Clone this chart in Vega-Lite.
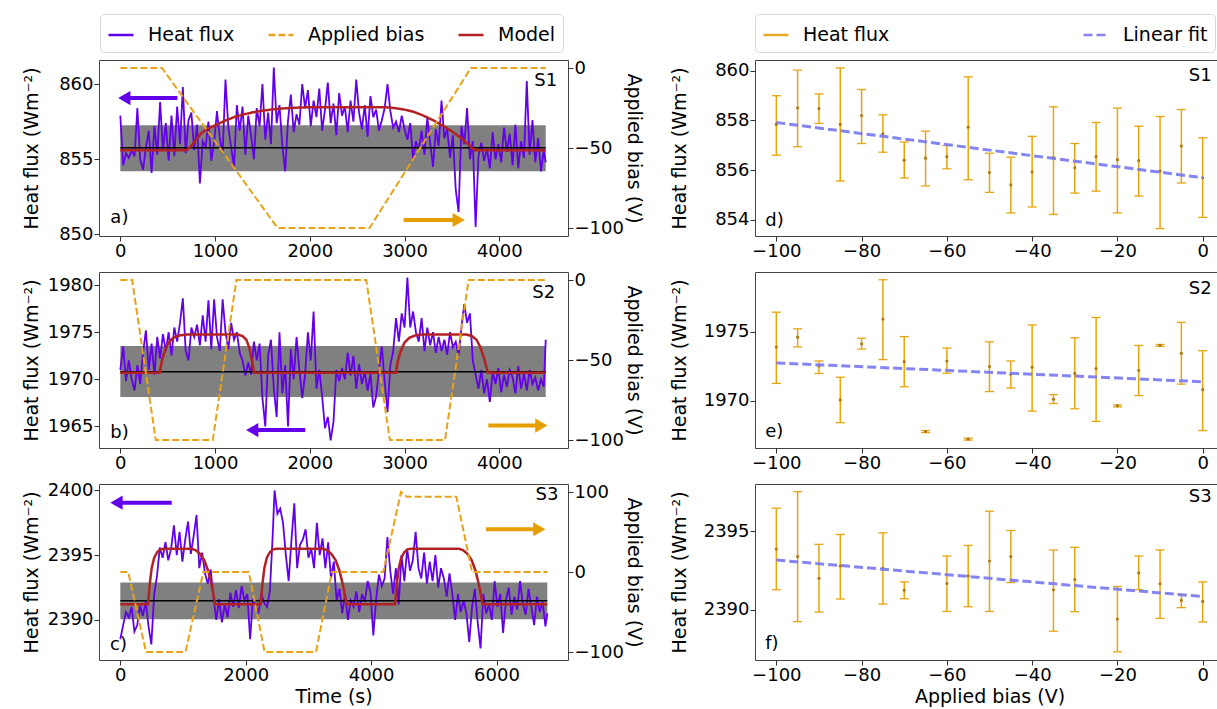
{
"$schema":"https://vega.github.io/schema/vega-lite/v6.json",
"padding":{"left":21,"top":13,"right":0,"bottom":0},
"columns":2,
"spacing":{"row":36,"column":187},
"bounds":"flush",
"resolve":{"scale":{"color":"independent","strokeDash":"independent"}},
"datasets":{
"flux_a":[{"t":0,"v":857.9},{"t":30,"v":854.6},{"t":60,"v":855.4},{"t":90,"v":855.1},{"t":120,"v":855.6},{"t":150,"v":855.2},{"t":180,"v":858.4},{"t":210,"v":855.0},{"t":240,"v":854.3},{"t":270,"v":855.8},{"t":300,"v":856.9},{"t":330,"v":854.1},{"t":360,"v":857.2},{"t":390,"v":855.3},{"t":420,"v":858.8},{"t":450,"v":855.6},{"t":480,"v":857.4},{"t":510,"v":854.9},{"t":540,"v":857.9},{"t":570,"v":855.2},{"t":600,"v":858.5},{"t":630,"v":856.0},{"t":660,"v":859.8},{"t":690,"v":855.4},{"t":720,"v":857.6},{"t":750,"v":858.1},{"t":780,"v":855.6},{"t":810,"v":857.3},{"t":840,"v":853.4},{"t":870,"v":856.2},{"t":900,"v":855.8},{"t":930,"v":857.5},{"t":960,"v":854.9},{"t":990,"v":856.1},{"t":1020,"v":858.2},{"t":1050,"v":856.4},{"t":1080,"v":855.4},{"t":1110,"v":860.3},{"t":1140,"v":857.1},{"t":1170,"v":855.8},{"t":1200,"v":854.5},{"t":1230,"v":858.6},{"t":1260,"v":856.9},{"t":1290,"v":858.5},{"t":1320,"v":855.3},{"t":1350,"v":857.9},{"t":1380,"v":856.6},{"t":1410,"v":855.0},{"t":1440,"v":858.4},{"t":1470,"v":857.2},{"t":1500,"v":860.0},{"t":1530,"v":856.3},{"t":1560,"v":858.1},{"t":1590,"v":856.0},{"t":1620,"v":861.1},{"t":1650,"v":857.4},{"t":1680,"v":858.6},{"t":1710,"v":855.9},{"t":1740,"v":854.2},{"t":1770,"v":857.6},{"t":1800,"v":859.3},{"t":1830,"v":856.8},{"t":1860,"v":858.0},{"t":1890,"v":857.3},{"t":1920,"v":860.0},{"t":1950,"v":858.4},{"t":1980,"v":859.6},{"t":2010,"v":857.2},{"t":2040,"v":858.9},{"t":2070,"v":857.8},{"t":2100,"v":859.7},{"t":2130,"v":856.9},{"t":2160,"v":858.3},{"t":2190,"v":860.1},{"t":2220,"v":857.4},{"t":2250,"v":858.7},{"t":2280,"v":856.6},{"t":2310,"v":859.4},{"t":2340,"v":857.9},{"t":2370,"v":858.5},{"t":2400,"v":856.8},{"t":2430,"v":858.9},{"t":2460,"v":857.5},{"t":2490,"v":860.3},{"t":2520,"v":858.1},{"t":2550,"v":857.0},{"t":2580,"v":858.6},{"t":2610,"v":856.5},{"t":2640,"v":859.2},{"t":2670,"v":857.8},{"t":2700,"v":858.3},{"t":2730,"v":856.9},{"t":2760,"v":857.6},{"t":2790,"v":858.4},{"t":2820,"v":860.0},{"t":2850,"v":858.2},{"t":2880,"v":857.1},{"t":2910,"v":857.5},{"t":2940,"v":856.8},{"t":2970,"v":857.9},{"t":3000,"v":857.0},{"t":3030,"v":856.3},{"t":3060,"v":857.4},{"t":3090,"v":855.0},{"t":3120,"v":856.2},{"t":3150,"v":855.6},{"t":3180,"v":856.9},{"t":3210,"v":855.3},{"t":3240,"v":857.8},{"t":3270,"v":856.1},{"t":3300,"v":854.5},{"t":3330,"v":857.0},{"t":3360,"v":855.9},{"t":3390,"v":858.9},{"t":3420,"v":856.4},{"t":3450,"v":857.0},{"t":3480,"v":855.1},{"t":3510,"v":856.6},{"t":3540,"v":853.0},{"t":3570,"v":851.5},{"t":3600,"v":857.2},{"t":3630,"v":856.0},{"t":3660,"v":858.4},{"t":3690,"v":855.0},{"t":3720,"v":856.2},{"t":3750,"v":850.5},{"t":3780,"v":855.2},{"t":3810,"v":856.1},{"t":3840,"v":854.9},{"t":3870,"v":855.7},{"t":3900,"v":854.4},{"t":3930,"v":856.8},{"t":3960,"v":855.0},{"t":3990,"v":856.0},{"t":4020,"v":854.8},{"t":4050,"v":857.1},{"t":4080,"v":855.5},{"t":4110,"v":856.7},{"t":4140,"v":854.6},{"t":4170,"v":857.3},{"t":4200,"v":854.4},{"t":4230,"v":856.2},{"t":4260,"v":855.1},{"t":4290,"v":860.2},{"t":4320,"v":855.3},{"t":4350,"v":857.6},{"t":4380,"v":854.8},{"t":4410,"v":856.4},{"t":4440,"v":854.2},{"t":4470,"v":855.6},{"t":4490,"v":854.8}],
"flux_b":[{"t":0,"v":1971.0},{"t":30,"v":1973.5},{"t":60,"v":1969.8},{"t":90,"v":1972.0},{"t":120,"v":1970.0},{"t":150,"v":1968.8},{"t":180,"v":1971.5},{"t":210,"v":1969.5},{"t":240,"v":1972.8},{"t":270,"v":1975.2},{"t":300,"v":1971.0},{"t":330,"v":1973.8},{"t":360,"v":1970.5},{"t":390,"v":1974.5},{"t":420,"v":1972.2},{"t":450,"v":1974.8},{"t":480,"v":1973.0},{"t":510,"v":1975.0},{"t":540,"v":1972.5},{"t":570,"v":1975.5},{"t":600,"v":1974.0},{"t":630,"v":1976.0},{"t":660,"v":1978.6},{"t":690,"v":1973.0},{"t":720,"v":1972.0},{"t":750,"v":1975.5},{"t":780,"v":1974.5},{"t":810,"v":1975.8},{"t":840,"v":1973.6},{"t":870,"v":1976.8},{"t":900,"v":1974.0},{"t":930,"v":1978.4},{"t":960,"v":1973.2},{"t":990,"v":1978.5},{"t":1020,"v":1974.5},{"t":1050,"v":1973.0},{"t":1080,"v":1978.5},{"t":1110,"v":1975.0},{"t":1140,"v":1973.2},{"t":1170,"v":1976.0},{"t":1200,"v":1974.2},{"t":1230,"v":1975.0},{"t":1260,"v":1972.8},{"t":1290,"v":1972.0},{"t":1320,"v":1970.4},{"t":1350,"v":1971.8},{"t":1380,"v":1970.5},{"t":1410,"v":1974.0},{"t":1440,"v":1972.0},{"t":1470,"v":1973.8},{"t":1500,"v":1968.0},{"t":1530,"v":1965.0},{"t":1560,"v":1972.5},{"t":1590,"v":1974.2},{"t":1620,"v":1969.0},{"t":1650,"v":1966.0},{"t":1680,"v":1975.0},{"t":1710,"v":1968.5},{"t":1740,"v":1971.5},{"t":1770,"v":1965.0},{"t":1800,"v":1973.2},{"t":1830,"v":1970.0},{"t":1860,"v":1974.5},{"t":1890,"v":1971.0},{"t":1920,"v":1968.0},{"t":1950,"v":1970.5},{"t":1980,"v":1975.0},{"t":2010,"v":1972.0},{"t":2040,"v":1977.2},{"t":2070,"v":1969.0},{"t":2100,"v":1971.0},{"t":2130,"v":1968.2},{"t":2160,"v":1964.8},{"t":2190,"v":1966.0},{"t":2220,"v":1963.5},{"t":2250,"v":1965.5},{"t":2280,"v":1971.0},{"t":2310,"v":1969.8},{"t":2340,"v":1971.2},{"t":2370,"v":1970.0},{"t":2400,"v":1972.8},{"t":2430,"v":1970.4},{"t":2460,"v":1972.5},{"t":2490,"v":1969.0},{"t":2520,"v":1971.6},{"t":2550,"v":1969.5},{"t":2580,"v":1970.8},{"t":2610,"v":1968.8},{"t":2640,"v":1970.6},{"t":2670,"v":1967.0},{"t":2700,"v":1968.2},{"t":2730,"v":1971.0},{"t":2760,"v":1973.5},{"t":2790,"v":1969.8},{"t":2820,"v":1966.5},{"t":2850,"v":1971.5},{"t":2880,"v":1973.0},{"t":2910,"v":1976.5},{"t":2940,"v":1974.0},{"t":2970,"v":1977.0},{"t":3000,"v":1975.5},{"t":3030,"v":1980.8},{"t":3060,"v":1975.5},{"t":3090,"v":1977.2},{"t":3120,"v":1975.0},{"t":3150,"v":1974.0},{"t":3180,"v":1976.5},{"t":3210,"v":1973.0},{"t":3240,"v":1975.5},{"t":3270,"v":1973.6},{"t":3300,"v":1975.0},{"t":3330,"v":1972.8},{"t":3360,"v":1974.5},{"t":3390,"v":1973.0},{"t":3420,"v":1974.2},{"t":3450,"v":1972.6},{"t":3480,"v":1975.0},{"t":3510,"v":1973.4},{"t":3540,"v":1974.0},{"t":3570,"v":1972.5},{"t":3600,"v":1975.5},{"t":3630,"v":1978.0},{"t":3660,"v":1976.0},{"t":3690,"v":1977.0},{"t":3720,"v":1972.0},{"t":3750,"v":1970.5},{"t":3780,"v":1969.0},{"t":3810,"v":1971.0},{"t":3840,"v":1968.5},{"t":3870,"v":1970.0},{"t":3900,"v":1967.6},{"t":3930,"v":1970.8},{"t":3960,"v":1969.5},{"t":3990,"v":1971.2},{"t":4020,"v":1968.6},{"t":4050,"v":1970.5},{"t":4080,"v":1969.2},{"t":4110,"v":1971.0},{"t":4140,"v":1970.2},{"t":4170,"v":1968.5},{"t":4200,"v":1971.4},{"t":4230,"v":1969.0},{"t":4260,"v":1970.6},{"t":4290,"v":1968.8},{"t":4320,"v":1971.0},{"t":4350,"v":1969.5},{"t":4380,"v":1970.2},{"t":4410,"v":1968.8},{"t":4440,"v":1970.0},{"t":4470,"v":1969.2},{"t":4490,"v":1974.2}],
"flux_c":[{"t":0,"v":2388.5},{"t":45,"v":2389.6},{"t":90,"v":2390.6},{"t":135,"v":2390.2},{"t":180,"v":2391.0},{"t":225,"v":2389.1},{"t":270,"v":2389.6},{"t":315,"v":2391.1},{"t":360,"v":2390.3},{"t":405,"v":2391.4},{"t":450,"v":2389.5},{"t":495,"v":2388.1},{"t":540,"v":2392.0},{"t":585,"v":2393.4},{"t":630,"v":2395.6},{"t":675,"v":2394.8},{"t":720,"v":2396.0},{"t":765,"v":2394.6},{"t":810,"v":2395.5},{"t":855,"v":2397.3},{"t":900,"v":2395.0},{"t":945,"v":2396.8},{"t":990,"v":2394.5},{"t":1035,"v":2396.2},{"t":1080,"v":2397.6},{"t":1125,"v":2395.1},{"t":1170,"v":2396.5},{"t":1215,"v":2398.1},{"t":1260,"v":2394.0},{"t":1305,"v":2395.2},{"t":1350,"v":2393.6},{"t":1395,"v":2392.8},{"t":1440,"v":2393.9},{"t":1485,"v":2391.8},{"t":1530,"v":2390.0},{"t":1575,"v":2391.6},{"t":1620,"v":2389.8},{"t":1665,"v":2391.2},{"t":1710,"v":2390.2},{"t":1755,"v":2392.1},{"t":1800,"v":2391.0},{"t":1845,"v":2392.3},{"t":1890,"v":2390.9},{"t":1935,"v":2392.6},{"t":1980,"v":2391.5},{"t":2025,"v":2392.0},{"t":2070,"v":2388.5},{"t":2115,"v":2391.6},{"t":2160,"v":2391.0},{"t":2205,"v":2390.6},{"t":2250,"v":2392.0},{"t":2295,"v":2391.3},{"t":2340,"v":2391.0},{"t":2385,"v":2392.2},{"t":2430,"v":2396.5},{"t":2460,"v":2400.0},{"t":2505,"v":2398.2},{"t":2550,"v":2398.6},{"t":2595,"v":2397.5},{"t":2640,"v":2395.0},{"t":2685,"v":2393.0},{"t":2730,"v":2396.2},{"t":2775,"v":2399.0},{"t":2820,"v":2394.0},{"t":2865,"v":2395.8},{"t":2910,"v":2396.2},{"t":2955,"v":2397.0},{"t":3000,"v":2394.8},{"t":3045,"v":2395.5},{"t":3090,"v":2394.0},{"t":3135,"v":2397.5},{"t":3180,"v":2395.0},{"t":3225,"v":2396.3},{"t":3270,"v":2394.0},{"t":3315,"v":2396.0},{"t":3360,"v":2393.2},{"t":3405,"v":2394.5},{"t":3450,"v":2391.5},{"t":3495,"v":2392.4},{"t":3540,"v":2390.5},{"t":3585,"v":2392.0},{"t":3630,"v":2390.0},{"t":3675,"v":2391.5},{"t":3720,"v":2391.0},{"t":3765,"v":2392.2},{"t":3810,"v":2390.6},{"t":3855,"v":2392.0},{"t":3900,"v":2391.4},{"t":3945,"v":2393.0},{"t":3990,"v":2392.1},{"t":4035,"v":2388.8},{"t":4080,"v":2391.6},{"t":4125,"v":2393.5},{"t":4170,"v":2392.6},{"t":4215,"v":2393.2},{"t":4260,"v":2396.4},{"t":4305,"v":2393.8},{"t":4350,"v":2392.0},{"t":4395,"v":2394.0},{"t":4440,"v":2391.2},{"t":4485,"v":2395.0},{"t":4530,"v":2393.0},{"t":4575,"v":2395.5},{"t":4620,"v":2393.8},{"t":4665,"v":2394.6},{"t":4710,"v":2396.8},{"t":4755,"v":2394.0},{"t":4800,"v":2393.2},{"t":4845,"v":2395.2},{"t":4890,"v":2392.8},{"t":4935,"v":2394.5},{"t":4980,"v":2393.0},{"t":5025,"v":2395.0},{"t":5070,"v":2392.5},{"t":5115,"v":2394.0},{"t":5160,"v":2393.2},{"t":5205,"v":2391.8},{"t":5250,"v":2393.6},{"t":5295,"v":2392.0},{"t":5340,"v":2390.0},{"t":5385,"v":2392.0},{"t":5430,"v":2390.6},{"t":5475,"v":2391.5},{"t":5520,"v":2390.5},{"t":5565,"v":2388.3},{"t":5610,"v":2391.0},{"t":5655,"v":2392.4},{"t":5700,"v":2389.8},{"t":5745,"v":2387.8},{"t":5790,"v":2392.0},{"t":5835,"v":2390.5},{"t":5880,"v":2391.2},{"t":5925,"v":2390.0},{"t":5970,"v":2393.0},{"t":6015,"v":2391.0},{"t":6060,"v":2392.0},{"t":6105,"v":2389.0},{"t":6150,"v":2391.5},{"t":6195,"v":2392.5},{"t":6240,"v":2390.4},{"t":6285,"v":2391.8},{"t":6330,"v":2390.8},{"t":6375,"v":2393.0},{"t":6420,"v":2391.2},{"t":6465,"v":2390.4},{"t":6510,"v":2392.4},{"t":6555,"v":2391.0},{"t":6600,"v":2389.6},{"t":6645,"v":2391.8},{"t":6690,"v":2390.6},{"t":6735,"v":2391.4},{"t":6780,"v":2389.5},{"t":6810,"v":2390.5}],
"model_a":[{"t":0,"v":855.6},{"t":700,"v":855.6},{"t":750,"v":855.9},{"t":800,"v":856.3},{"t":850,"v":856.7},{"t":900,"v":856.95},{"t":1000,"v":857.25},{"t":1100,"v":857.55},{"t":1200,"v":857.8},{"t":1300,"v":857.98},{"t":1400,"v":858.12},{"t":1500,"v":858.23},{"t":1600,"v":858.31},{"t":1700,"v":858.37},{"t":1800,"v":858.41},{"t":1900,"v":858.44},{"t":2000,"v":858.46},{"t":2800,"v":858.46},{"t":2900,"v":858.4},{"t":3000,"v":858.3},{"t":3100,"v":858.15},{"t":3200,"v":857.9},{"t":3300,"v":857.6},{"t":3400,"v":857.25},{"t":3500,"v":856.85},{"t":3600,"v":856.4},{"t":3680,"v":855.95},{"t":3740,"v":855.6},{"t":4490,"v":855.6}],
"model_b":[{"t":0,"v":1970.7},{"t":415,"v":1970.7},{"t":440,"v":1972.0},{"t":470,"v":1973.0},{"t":510,"v":1973.9},{"t":560,"v":1974.4},{"t":620,"v":1974.65},{"t":700,"v":1974.75},{"t":1240,"v":1974.75},{"t":1290,"v":1974.6},{"t":1330,"v":1974.2},{"t":1360,"v":1973.4},{"t":1385,"v":1972.2},{"t":1412,"v":1970.7},{"t":2908,"v":1970.7},{"t":2930,"v":1972.0},{"t":2960,"v":1973.0},{"t":3000,"v":1973.9},{"t":3050,"v":1974.4},{"t":3110,"v":1974.65},{"t":3180,"v":1974.75},{"t":3650,"v":1974.75},{"t":3710,"v":1974.6},{"t":3760,"v":1974.2},{"t":3800,"v":1973.4},{"t":3840,"v":1972.2},{"t":3880,"v":1970.7},{"t":4490,"v":1970.7}],
"model_c":[{"t":0,"v":2391.2},{"t":441,"v":2391.2},{"t":470,"v":2392.8},{"t":500,"v":2394.0},{"t":540,"v":2394.8},{"t":590,"v":2395.25},{"t":640,"v":2395.45},{"t":694,"v":2395.5},{"t":1135,"v":2395.5},{"t":1200,"v":2395.4},{"t":1270,"v":2395.1},{"t":1340,"v":2394.6},{"t":1400,"v":2393.8},{"t":1460,"v":2392.6},{"t":1513,"v":2391.2},{"t":2238,"v":2391.2},{"t":2267,"v":2392.8},{"t":2297,"v":2394.0},{"t":2337,"v":2394.8},{"t":2387,"v":2395.25},{"t":2437,"v":2395.45},{"t":2491,"v":2395.5},{"t":3230,"v":2395.5},{"t":3295,"v":2395.4},{"t":3365,"v":2395.1},{"t":3435,"v":2394.6},{"t":3495,"v":2393.8},{"t":3555,"v":2392.6},{"t":3608,"v":2391.2},{"t":4382,"v":2391.2},{"t":4411,"v":2392.8},{"t":4441,"v":2394.0},{"t":4481,"v":2394.8},{"t":4531,"v":2395.25},{"t":4581,"v":2395.45},{"t":4635,"v":2395.5},{"t":5400,"v":2395.5},{"t":5465,"v":2395.4},{"t":5535,"v":2395.1},{"t":5605,"v":2394.6},{"t":5665,"v":2393.8},{"t":5725,"v":2392.6},{"t":5778,"v":2391.2},{"t":6810,"v":2391.2}],
"bias_a":[{"t":0,"v":0},{"t":440,"v":0},{"t":1660,"v":-100},{"t":2630,"v":-100},{"t":3700,"v":0},{"t":4490,"v":0}],
"bias_b":[{"t":0,"v":0},{"t":125,"v":0},{"t":374,"v":-100},{"t":976,"v":-100},{"t":1225,"v":0},{"t":2596,"v":0},{"t":2845,"v":-100},{"t":3427,"v":-100},{"t":3676,"v":0},{"t":4490,"v":0}],
"bias_c":[{"t":0,"v":0},{"t":126,"v":0},{"t":410,"v":-100},{"t":1040,"v":-100},{"t":1324,"v":0},{"t":2049,"v":0},{"t":2301,"v":-100},{"t":3121,"v":-100},{"t":3373,"v":0},{"t":4193,"v":0},{"t":4477,"v":100},{"t":4570,"v":94},{"t":5360,"v":94},{"t":5610,"v":0},{"t":6810,"v":0}],
"band":[{"p":"a","t0":0,"t1":4490,"lo":854.2,"hi":857.27,"mean":855.76},{"p":"b","t0":0,"t1":4490,"lo":1968.12,"hi":1973.55,"mean":1970.8},{"p":"c","t0":0,"t1":6810,"lo":2390.05,"hi":2392.88,"mean":2391.48}],
"arrows":[{"p":"a","ax":"flux","x1":603,"x2":60,"y":859.07,"tip":42},{"p":"a","ax":"bias","x1":2990,"x2":3560,"y":-95,"tip":3571},{"p":"b","ax":"flux","x1":1952,"x2":1400,"y":1964.6,"tip":1392},{"p":"b","ax":"bias","x1":3884,"x2":4440,"y":-91,"tip":4444},{"p":"c","ax":"flux","x1":820,"x2":-50,"y":2399.06,"tip":-61},{"p":"c","ax":"bias","x1":5832,"x2":6680,"y":53.5,"tip":6682}],
"labels":[{"p":"a","k":"s","x":4611,"y":860.19,"text":"S1"},{"p":"a","k":"l","x":-105,"y":851.1,"text":"a)"},{"p":"b","k":"s","x":4590,"y":1979.22,"text":"S2"},{"p":"b","k":"l","x":-105,"y":1964.26,"text":"b)"},{"p":"c","k":"s","x":6986,"y":2399.64,"text":"S3"},{"p":"c","k":"l","x":-164,"y":2388.04,"text":"c)"},{"p":"d","k":"s","x":2.1,"y":859.79,"text":"S1"},{"p":"d","k":"l","x":-102.6,"y":853.95,"text":"d)"},{"p":"e","k":"s","x":2.1,"y":1978.1,"text":"S2"},{"p":"e","k":"l","x":-102.6,"y":1967.76,"text":"e)"},{"p":"f","k":"s","x":2.1,"y":2397.2,"text":"S3"},{"p":"f","k":"l","x":-102.6,"y":2387.83,"text":"f)"}],
"err_d":[{"b":-100,"v":857.84,"lo":856.6,"hi":859.0},{"b":-95,"v":858.51,"lo":856.94,"hi":860.03},{"b":-90,"v":858.48,"lo":857.88,"hi":859.07},{"b":-85,"v":857.84,"lo":855.56,"hi":860.12},{"b":-80,"v":858.2,"lo":857.07,"hi":859.25},{"b":-75,"v":857.46,"lo":856.72,"hi":858.23},{"b":-70,"v":856.4,"lo":855.68,"hi":857.13},{"b":-65,"v":856.48,"lo":855.36,"hi":857.57},{"b":-60,"v":856.54,"lo":856.05,"hi":856.99},{"b":-55,"v":857.73,"lo":855.61,"hi":859.76},{"b":-50,"v":855.9,"lo":855.1,"hi":856.68},{"b":-45,"v":855.4,"lo":854.27,"hi":856.52},{"b":-40,"v":855.92,"lo":854.51,"hi":857.36},{"b":-35,"v":856.5,"lo":854.21,"hi":858.55},{"b":-30,"v":856.09,"lo":855.07,"hi":857.07},{"b":-25,"v":856.54,"lo":855.15,"hi":857.92},{"b":-20,"v":856.42,"lo":854.27,"hi":858.5},{"b":-15,"v":856.38,"lo":854.95,"hi":857.77},{"b":-10,"v":855.96,"lo":853.64,"hi":858.16},{"b":-5,"v":856.97,"lo":855.48,"hi":858.44},{"b":0,"v":855.69,"lo":854.09,"hi":857.3}],
"err_e":[{"b":-100,"v":1973.88,"lo":1971.26,"hi":1976.4},{"b":-95,"v":1974.6,"lo":1973.9,"hi":1975.2},{"b":-90,"v":1972.52,"lo":1971.98,"hi":1972.88},{"b":-85,"v":1970.07,"lo":1968.43,"hi":1971.71},{"b":-80,"v":1974.12,"lo":1973.74,"hi":1974.52},{"b":-75,"v":1975.9,"lo":1972.98,"hi":1978.74},{"b":-70,"v":1972.83,"lo":1971.02,"hi":1974.64},{"b":-65,"v":1967.79,"lo":1967.71,"hi":1967.86},{"b":-60,"v":1972.88,"lo":1972.0,"hi":1973.81},{"b":-55,"v":1967.24,"lo":1967.17,"hi":1967.31},{"b":-50,"v":1972.48,"lo":1970.67,"hi":1974.26},{"b":-45,"v":1971.93,"lo":1970.93,"hi":1972.88},{"b":-40,"v":1972.43,"lo":1969.26,"hi":1975.48},{"b":-35,"v":1970.12,"lo":1969.81,"hi":1970.45},{"b":-30,"v":1971.98,"lo":1969.43,"hi":1974.55},{"b":-25,"v":1972.33,"lo":1968.52,"hi":1976.02},{"b":-20,"v":1969.64,"lo":1969.57,"hi":1969.71},{"b":-15,"v":1972.19,"lo":1970.38,"hi":1974.0},{"b":-10,"v":1974.0,"lo":1973.93,"hi":1974.07},{"b":-5,"v":1973.43,"lo":1971.21,"hi":1975.67},{"b":0,"v":1970.81,"lo":1967.86,"hi":1973.62}],
"err_f":[{"b":-100,"v":2393.86,"lo":2391.27,"hi":2396.46},{"b":-95,"v":2393.38,"lo":2389.24,"hi":2397.51},{"b":-90,"v":2392.0,"lo":2389.85,"hi":2394.16},{"b":-85,"v":2392.78,"lo":2390.68,"hi":2394.79},{"b":-75,"v":2392.64,"lo":2390.36,"hi":2394.89},{"b":-70,"v":2391.24,"lo":2390.7,"hi":2391.77},{"b":-60,"v":2391.67,"lo":2389.89,"hi":2393.42},{"b":-55,"v":2392.15,"lo":2390.19,"hi":2394.09},{"b":-50,"v":2393.1,"lo":2389.89,"hi":2396.27},{"b":-45,"v":2393.38,"lo":2391.73,"hi":2395.04},{"b":-35,"v":2391.27,"lo":2388.63,"hi":2393.8},{"b":-30,"v":2391.92,"lo":2389.87,"hi":2393.97},{"b":-20,"v":2389.41,"lo":2387.32,"hi":2391.48},{"b":-15,"v":2392.34,"lo":2391.27,"hi":2393.42},{"b":-10,"v":2391.65,"lo":2389.45,"hi":2393.8},{"b":-5,"v":2390.59,"lo":2390.13,"hi":2390.97},{"b":0,"v":2390.53,"lo":2389.22,"hi":2391.77}],
"fit":[{"p":"d","b":-100,"v":857.92},{"p":"d","b":0,"v":855.69},{"p":"e","b":-100,"v":1972.74},{"p":"e","b":0,"v":1971.38},{"p":"f","b":-100,"v":2393.16},{"p":"f","b":0,"v":2390.84}]
},
"concat":[
{"width":469,"height":176,"resolve":{"scale":{"y":"independent"}},
"layer":[
{"layer":[
{"data":{"name":"band"},"transform":[{"filter":"datum.p=='a'"}],"mark":{"type":"rect","color":"#808080"},
"encoding":{"x":{"field":"t0","type":"quantitative","scale":{"domain":[-225,4725],"nice":false},"axis":{"values":[0,1000,2000,3000,4000],"title":null}},"x2":{"field":"t1"},
"y":{"field":"lo","type":"quantitative","scale":{"domain":[849.9,861.6],"nice":false},"axis":{"values":[850,855,860],"title":"Heat flux (Wm⁻²)","titlePadding":17}},"y2":{"field":"hi"}}},
{"data":{"name":"flux_a"},"mark":{"type":"line","strokeWidth":1.8},
"encoding":{"x":{"field":"t","type":"quantitative","scale":{"domain":[-225,4725],"nice":false}},"y":{"field":"v","type":"quantitative","scale":{"domain":[849.9,861.6],"nice":false}},
"color":{"datum":"Heat flux","type":"nominal","scale":{"domain":["Heat flux","Applied bias","Model"],"range":["#6200ea","#e8a21a","#b22222"]},"legend":{"title":null,"orient":"none","legendX":1,"legendY":-46,"direction":"horizontal","columnPadding":28}},
"strokeDash":{"datum":"Heat flux","type":"nominal","scale":{"domain":["Heat flux","Applied bias","Model"],"range":[[1,0],[7,3],[1,0]]},"legend":{"title":null,"orient":"none","legendX":1,"legendY":-46,"direction":"horizontal","columnPadding":28}}}},
{"data":{"name":"band"},"transform":[{"filter":"datum.p=='a'"}],"mark":{"type":"rule","color":"#000000","strokeWidth":1.5},
"encoding":{"x":{"field":"t0","type":"quantitative","scale":{"domain":[-225,4725],"nice":false}},"x2":{"field":"t1"},"y":{"field":"mean","type":"quantitative","scale":{"domain":[849.9,861.6],"nice":false}}}},
{"data":{"name":"model_a"},"mark":{"type":"line","strokeWidth":2.5},
"encoding":{"x":{"field":"t","type":"quantitative","scale":{"domain":[-225,4725],"nice":false}},"y":{"field":"v","type":"quantitative","scale":{"domain":[849.9,861.6],"nice":false}},
"color":{"datum":"Model","type":"nominal"},"strokeDash":{"datum":"Model","type":"nominal"}}},
{"data":{"name":"arrows"},"transform":[{"filter":"datum.p=='a' && datum.ax=='flux'"}],"mark":{"type":"rule","color":"#6200ea","strokeWidth":4},
"encoding":{"x":{"field":"x1","type":"quantitative","scale":{"domain":[-225,4725],"nice":false}},"x2":{"field":"x2"},"y":{"field":"y","type":"quantitative","scale":{"domain":[849.9,861.6],"nice":false}}}},
{"data":{"name":"arrows"},"transform":[{"filter":"datum.p=='a' && datum.ax=='flux'"}],"mark":{"type":"point","shape":"triangle-left","filled":true,"size":200,"color":"#6200ea","opacity":1},
"encoding":{"x":{"field":"tip","type":"quantitative","scale":{"domain":[-225,4725],"nice":false}},"y":{"field":"y","type":"quantitative","scale":{"domain":[849.9,861.6],"nice":false}}}},
{"data":{"name":"labels"},"transform":[{"filter":"datum.p=='a' && datum.k=='s'"}],"mark":{"type":"text","align":"right","baseline":"middle","fontSize":18},
"encoding":{"x":{"field":"x","type":"quantitative","scale":{"domain":[-225,4725],"nice":false}},"y":{"field":"y","type":"quantitative","scale":{"domain":[849.9,861.6],"nice":false}},"text":{"field":"text"}}},
{"data":{"name":"labels"},"transform":[{"filter":"datum.p=='a' && datum.k=='l'"}],"mark":{"type":"text","align":"left","baseline":"middle","fontSize":18},
"encoding":{"x":{"field":"x","type":"quantitative","scale":{"domain":[-225,4725],"nice":false}},"y":{"field":"y","type":"quantitative","scale":{"domain":[849.9,861.6],"nice":false}},"text":{"field":"text"}}}
]},
{"layer":[
{"data":{"name":"bias_a"},"mark":{"type":"line","strokeWidth":2},
"encoding":{"x":{"field":"t","type":"quantitative","scale":{"domain":[-225,4725],"nice":false}},"y":{"field":"v","type":"quantitative","scale":{"domain":[-105,5],"nice":false},"axis":{"orient":"right","values":[-100,-50,0],"title":"Applied bias (V)","titlePadding":0}},
"color":{"datum":"Applied bias","type":"nominal"},"strokeDash":{"datum":"Applied bias","type":"nominal"}}},
{"data":{"name":"arrows"},"transform":[{"filter":"datum.p=='a' && datum.ax=='bias'"}],"mark":{"type":"rule","color":"#e69f00","strokeWidth":4},
"encoding":{"x":{"field":"x1","type":"quantitative","scale":{"domain":[-225,4725],"nice":false}},"x2":{"field":"x2"},"y":{"field":"y","type":"quantitative","scale":{"domain":[-105,5],"nice":false}}}},
{"data":{"name":"arrows"},"transform":[{"filter":"datum.p=='a' && datum.ax=='bias'"}],"mark":{"type":"point","shape":"triangle-right","filled":true,"size":200,"color":"#e69f00","opacity":1},
"encoding":{"x":{"field":"tip","type":"quantitative","scale":{"domain":[-225,4725],"nice":false}},"y":{"field":"y","type":"quantitative","scale":{"domain":[-105,5],"nice":false}}}}
]}
]},
{"width":469,"height":176,
"layer":[
{"data":{"name":"err_d"},"mark":{"type":"rule","strokeWidth":1.5},
"encoding":{"x":{"field":"b","type":"quantitative","scale":{"domain":[-105,5],"nice":false},"axis":{"values":[-100,-80,-60,-40,-20,0],"title":null}},
"y":{"field":"lo","type":"quantitative","scale":{"domain":[853.34,860.44],"nice":false},"axis":{"values":[854,856,858,860],"title":"Heat flux (Wm⁻²)","titlePadding":25}},"y2":{"field":"hi"},
"color":{"datum":"Heat flux","type":"nominal","scale":{"domain":["Heat flux","Linear fit"],"range":["#e6a50f","#7878f0"]},"legend":{"title":null,"orient":"none","legendX":0,"legendY":-46,"direction":"horizontal","columnPadding":188}},
"strokeDash":{"datum":"Heat flux","type":"nominal","scale":{"domain":["Heat flux","Linear fit"],"range":[[1,0],[9,4]]},"legend":{"title":null,"orient":"none","legendX":0,"legendY":-46,"direction":"horizontal","columnPadding":188}}}},
{"data":{"name":"err_d"},"mark":{"type":"tick","orient":"horizontal","size":9,"thickness":1.3,"color":"#e6a50f","opacity":1},
"encoding":{"x":{"field":"b","type":"quantitative","scale":{"domain":[-105,5],"nice":false}},"y":{"field":"lo","type":"quantitative","scale":{"domain":[853.34,860.44],"nice":false}}}},
{"data":{"name":"err_d"},"mark":{"type":"tick","orient":"horizontal","size":9,"thickness":1.3,"color":"#e6a50f","opacity":1},
"encoding":{"x":{"field":"b","type":"quantitative","scale":{"domain":[-105,5],"nice":false}},"y":{"field":"hi","type":"quantitative","scale":{"domain":[853.34,860.44],"nice":false}}}},
{"data":{"name":"err_d"},"mark":{"type":"point","filled":true,"size":10,"color":"#b07a10","opacity":1},
"encoding":{"x":{"field":"b","type":"quantitative","scale":{"domain":[-105,5],"nice":false}},"y":{"field":"v","type":"quantitative","scale":{"domain":[853.34,860.44],"nice":false}}}},
{"data":{"name":"fit"},"transform":[{"filter":"datum.p=='d'"}],"mark":{"type":"line","strokeWidth":3,"opacity":0.9},
"encoding":{"x":{"field":"b","type":"quantitative","scale":{"domain":[-105,5],"nice":false}},"y":{"field":"v","type":"quantitative","scale":{"domain":[853.34,860.44],"nice":false}},
"color":{"datum":"Linear fit","type":"nominal"},"strokeDash":{"datum":"Linear fit","type":"nominal"}}},
{"data":{"name":"labels"},"transform":[{"filter":"datum.p=='d' && datum.k=='s'"}],"mark":{"type":"text","align":"right","baseline":"middle","fontSize":18},
"encoding":{"x":{"field":"x","type":"quantitative","scale":{"domain":[-105,5],"nice":false}},"y":{"field":"y","type":"quantitative","scale":{"domain":[853.34,860.44],"nice":false}},"text":{"field":"text"}}},
{"data":{"name":"labels"},"transform":[{"filter":"datum.p=='d' && datum.k=='l'"}],"mark":{"type":"text","align":"left","baseline":"middle","fontSize":18},
"encoding":{"x":{"field":"x","type":"quantitative","scale":{"domain":[-105,5],"nice":false}},"y":{"field":"y","type":"quantitative","scale":{"domain":[853.34,860.44],"nice":false}},"text":{"field":"text"}}}
]},
{"width":469,"height":176,"resolve":{"scale":{"y":"independent"}},
"layer":[
{"layer":[
{"data":{"name":"band"},"transform":[{"filter":"datum.p=='b'"}],"mark":{"type":"rect","color":"#808080"},
"encoding":{"x":{"field":"t0","type":"quantitative","scale":{"domain":[-225,4725],"nice":false},"axis":{"values":[0,1000,2000,3000,4000],"title":null}},"x2":{"field":"t1"},
"y":{"field":"lo","type":"quantitative","scale":{"domain":[1962.7,1981.4],"nice":false},"axis":{"values":[1965,1970,1975,1980],"title":"Heat flux (Wm⁻²)","titlePadding":6}},"y2":{"field":"hi"}}},
{"data":{"name":"flux_b"},"mark":{"type":"line","strokeWidth":1.8,"color":"#6200ea"},
"encoding":{"x":{"field":"t","type":"quantitative","scale":{"domain":[-225,4725],"nice":false}},"y":{"field":"v","type":"quantitative","scale":{"domain":[1962.7,1981.4],"nice":false}}}},
{"data":{"name":"band"},"transform":[{"filter":"datum.p=='b'"}],"mark":{"type":"rule","color":"#000000","strokeWidth":1.5},
"encoding":{"x":{"field":"t0","type":"quantitative","scale":{"domain":[-225,4725],"nice":false}},"x2":{"field":"t1"},"y":{"field":"mean","type":"quantitative","scale":{"domain":[1962.7,1981.4],"nice":false}}}},
{"data":{"name":"model_b"},"mark":{"type":"line","strokeWidth":2.5,"color":"#b22222"},
"encoding":{"x":{"field":"t","type":"quantitative","scale":{"domain":[-225,4725],"nice":false}},"y":{"field":"v","type":"quantitative","scale":{"domain":[1962.7,1981.4],"nice":false}}}},
{"data":{"name":"arrows"},"transform":[{"filter":"datum.p=='b' && datum.ax=='flux'"}],"mark":{"type":"rule","color":"#6200ea","strokeWidth":4},
"encoding":{"x":{"field":"x1","type":"quantitative","scale":{"domain":[-225,4725],"nice":false}},"x2":{"field":"x2"},"y":{"field":"y","type":"quantitative","scale":{"domain":[1962.7,1981.4],"nice":false}}}},
{"data":{"name":"arrows"},"transform":[{"filter":"datum.p=='b' && datum.ax=='flux'"}],"mark":{"type":"point","shape":"triangle-left","filled":true,"size":200,"color":"#6200ea","opacity":1},
"encoding":{"x":{"field":"tip","type":"quantitative","scale":{"domain":[-225,4725],"nice":false}},"y":{"field":"y","type":"quantitative","scale":{"domain":[1962.7,1981.4],"nice":false}}}},
{"data":{"name":"labels"},"transform":[{"filter":"datum.p=='b' && datum.k=='s'"}],"mark":{"type":"text","align":"right","baseline":"middle","fontSize":18},
"encoding":{"x":{"field":"x","type":"quantitative","scale":{"domain":[-225,4725],"nice":false}},"y":{"field":"y","type":"quantitative","scale":{"domain":[1962.7,1981.4],"nice":false}},"text":{"field":"text"}}},
{"data":{"name":"labels"},"transform":[{"filter":"datum.p=='b' && datum.k=='l'"}],"mark":{"type":"text","align":"left","baseline":"middle","fontSize":18},
"encoding":{"x":{"field":"x","type":"quantitative","scale":{"domain":[-225,4725],"nice":false}},"y":{"field":"y","type":"quantitative","scale":{"domain":[1962.7,1981.4],"nice":false}},"text":{"field":"text"}}}
]},
{"layer":[
{"data":{"name":"bias_b"},"mark":{"type":"line","strokeWidth":2,"color":"#e8a21a","strokeDash":[7,3]},
"encoding":{"x":{"field":"t","type":"quantitative","scale":{"domain":[-225,4725],"nice":false}},"y":{"field":"v","type":"quantitative","scale":{"domain":[-105,5],"nice":false},"axis":{"orient":"right","values":[-100,-50,0],"title":"Applied bias (V)","titlePadding":0}}}},
{"data":{"name":"arrows"},"transform":[{"filter":"datum.p=='b' && datum.ax=='bias'"}],"mark":{"type":"rule","color":"#e69f00","strokeWidth":4},
"encoding":{"x":{"field":"x1","type":"quantitative","scale":{"domain":[-225,4725],"nice":false}},"x2":{"field":"x2"},"y":{"field":"y","type":"quantitative","scale":{"domain":[-105,5],"nice":false}}}},
{"data":{"name":"arrows"},"transform":[{"filter":"datum.p=='b' && datum.ax=='bias'"}],"mark":{"type":"point","shape":"triangle-right","filled":true,"size":200,"color":"#e69f00","opacity":1},
"encoding":{"x":{"field":"tip","type":"quantitative","scale":{"domain":[-225,4725],"nice":false}},"y":{"field":"y","type":"quantitative","scale":{"domain":[-105,5],"nice":false}}}}
]}
]},
{"width":469,"height":176,
"layer":[
{"data":{"name":"err_e"},"mark":{"type":"rule","strokeWidth":1.5,"color":"#e6a50f"},
"encoding":{"x":{"field":"b","type":"quantitative","scale":{"domain":[-105,5],"nice":false},"axis":{"values":[-100,-80,-60,-40,-20,0],"title":null}},
"y":{"field":"lo","type":"quantitative","scale":{"domain":[1966.6,1979.3],"nice":false},"axis":{"values":[1970,1975],"title":"Heat flux (Wm⁻²)","titlePadding":14}},"y2":{"field":"hi"}}},
{"data":{"name":"err_e"},"mark":{"type":"tick","orient":"horizontal","size":9,"thickness":1.3,"color":"#e6a50f","opacity":1},
"encoding":{"x":{"field":"b","type":"quantitative","scale":{"domain":[-105,5],"nice":false}},"y":{"field":"lo","type":"quantitative","scale":{"domain":[1966.6,1979.3],"nice":false}}}},
{"data":{"name":"err_e"},"mark":{"type":"tick","orient":"horizontal","size":9,"thickness":1.3,"color":"#e6a50f","opacity":1},
"encoding":{"x":{"field":"b","type":"quantitative","scale":{"domain":[-105,5],"nice":false}},"y":{"field":"hi","type":"quantitative","scale":{"domain":[1966.6,1979.3],"nice":false}}}},
{"data":{"name":"err_e"},"mark":{"type":"point","filled":true,"size":10,"color":"#b07a10","opacity":1},
"encoding":{"x":{"field":"b","type":"quantitative","scale":{"domain":[-105,5],"nice":false}},"y":{"field":"v","type":"quantitative","scale":{"domain":[1966.6,1979.3],"nice":false}}}},
{"data":{"name":"fit"},"transform":[{"filter":"datum.p=='e'"}],"mark":{"type":"line","strokeWidth":3,"opacity":0.9,"color":"#7878f0","strokeDash":[9,4]},
"encoding":{"x":{"field":"b","type":"quantitative","scale":{"domain":[-105,5],"nice":false}},"y":{"field":"v","type":"quantitative","scale":{"domain":[1966.6,1979.3],"nice":false}}}},
{"data":{"name":"labels"},"transform":[{"filter":"datum.p=='e' && datum.k=='s'"}],"mark":{"type":"text","align":"right","baseline":"middle","fontSize":18},
"encoding":{"x":{"field":"x","type":"quantitative","scale":{"domain":[-105,5],"nice":false}},"y":{"field":"y","type":"quantitative","scale":{"domain":[1966.6,1979.3],"nice":false}},"text":{"field":"text"}}},
{"data":{"name":"labels"},"transform":[{"filter":"datum.p=='e' && datum.k=='l'"}],"mark":{"type":"text","align":"left","baseline":"middle","fontSize":18},
"encoding":{"x":{"field":"x","type":"quantitative","scale":{"domain":[-105,5],"nice":false}},"y":{"field":"y","type":"quantitative","scale":{"domain":[1966.6,1979.3],"nice":false}},"text":{"field":"text"}}}
]},
{"width":469,"height":176,"resolve":{"scale":{"y":"independent"}},
"layer":[
{"layer":[
{"data":{"name":"band"},"transform":[{"filter":"datum.p=='c'"}],"mark":{"type":"rect","color":"#808080"},
"encoding":{"x":{"field":"t0","type":"quantitative","scale":{"domain":[-340,7140],"nice":false},"axis":{"values":[0,2000,4000,6000],"title":"Time (s)","titlePadding":3}},"x2":{"field":"t1"},
"y":{"field":"lo","type":"quantitative","scale":{"domain":[2386.9,2400.5],"nice":false},"axis":{"values":[2390,2395,2400],"title":"Heat flux (Wm⁻²)","titlePadding":6}},"y2":{"field":"hi"}}},
{"data":{"name":"flux_c"},"mark":{"type":"line","strokeWidth":1.8,"color":"#6200ea"},
"encoding":{"x":{"field":"t","type":"quantitative","scale":{"domain":[-340,7140],"nice":false}},"y":{"field":"v","type":"quantitative","scale":{"domain":[2386.9,2400.5],"nice":false}}}},
{"data":{"name":"band"},"transform":[{"filter":"datum.p=='c'"}],"mark":{"type":"rule","color":"#000000","strokeWidth":1.5},
"encoding":{"x":{"field":"t0","type":"quantitative","scale":{"domain":[-340,7140],"nice":false}},"x2":{"field":"t1"},"y":{"field":"mean","type":"quantitative","scale":{"domain":[2386.9,2400.5],"nice":false}}}},
{"data":{"name":"model_c"},"mark":{"type":"line","strokeWidth":2.5,"color":"#b22222"},
"encoding":{"x":{"field":"t","type":"quantitative","scale":{"domain":[-340,7140],"nice":false}},"y":{"field":"v","type":"quantitative","scale":{"domain":[2386.9,2400.5],"nice":false}}}},
{"data":{"name":"arrows"},"transform":[{"filter":"datum.p=='c' && datum.ax=='flux'"}],"mark":{"type":"rule","color":"#6200ea","strokeWidth":4},
"encoding":{"x":{"field":"x1","type":"quantitative","scale":{"domain":[-340,7140],"nice":false}},"x2":{"field":"x2"},"y":{"field":"y","type":"quantitative","scale":{"domain":[2386.9,2400.5],"nice":false}}}},
{"data":{"name":"arrows"},"transform":[{"filter":"datum.p=='c' && datum.ax=='flux'"}],"mark":{"type":"point","shape":"triangle-left","filled":true,"size":200,"color":"#6200ea","opacity":1},
"encoding":{"x":{"field":"tip","type":"quantitative","scale":{"domain":[-340,7140],"nice":false}},"y":{"field":"y","type":"quantitative","scale":{"domain":[2386.9,2400.5],"nice":false}}}},
{"data":{"name":"labels"},"transform":[{"filter":"datum.p=='c' && datum.k=='s'"}],"mark":{"type":"text","align":"right","baseline":"middle","fontSize":18},
"encoding":{"x":{"field":"x","type":"quantitative","scale":{"domain":[-340,7140],"nice":false}},"y":{"field":"y","type":"quantitative","scale":{"domain":[2386.9,2400.5],"nice":false}},"text":{"field":"text"}}},
{"data":{"name":"labels"},"transform":[{"filter":"datum.p=='c' && datum.k=='l'"}],"mark":{"type":"text","align":"left","baseline":"middle","fontSize":18},
"encoding":{"x":{"field":"x","type":"quantitative","scale":{"domain":[-340,7140],"nice":false}},"y":{"field":"y","type":"quantitative","scale":{"domain":[2386.9,2400.5],"nice":false}},"text":{"field":"text"}}}
]},
{"layer":[
{"data":{"name":"bias_c"},"mark":{"type":"line","strokeWidth":2,"color":"#e8a21a","strokeDash":[7,3]},
"encoding":{"x":{"field":"t","type":"quantitative","scale":{"domain":[-340,7140],"nice":false}},"y":{"field":"v","type":"quantitative","scale":{"domain":[-110,110],"nice":false},"axis":{"orient":"right","values":[-100,0,100],"title":"Applied bias (V)","titlePadding":0}}}},
{"data":{"name":"arrows"},"transform":[{"filter":"datum.p=='c' && datum.ax=='bias'"}],"mark":{"type":"rule","color":"#e69f00","strokeWidth":4},
"encoding":{"x":{"field":"x1","type":"quantitative","scale":{"domain":[-340,7140],"nice":false}},"x2":{"field":"x2"},"y":{"field":"y","type":"quantitative","scale":{"domain":[-110,110],"nice":false}}}},
{"data":{"name":"arrows"},"transform":[{"filter":"datum.p=='c' && datum.ax=='bias'"}],"mark":{"type":"point","shape":"triangle-right","filled":true,"size":200,"color":"#e69f00","opacity":1},
"encoding":{"x":{"field":"tip","type":"quantitative","scale":{"domain":[-340,7140],"nice":false}},"y":{"field":"y","type":"quantitative","scale":{"domain":[-110,110],"nice":false}}}}
]}
]},
{"width":469,"height":176,
"layer":[
{"data":{"name":"err_f"},"mark":{"type":"rule","strokeWidth":1.5,"color":"#e6a50f"},
"encoding":{"x":{"field":"b","type":"quantitative","scale":{"domain":[-105,5],"nice":false},"axis":{"values":[-100,-80,-60,-40,-20,0],"title":"Applied bias (V)","titlePadding":3}},
"y":{"field":"lo","type":"quantitative","scale":{"domain":[2386.8,2398.0],"nice":false},"axis":{"values":[2390,2395],"title":"Heat flux (Wm⁻²)","titlePadding":14}},"y2":{"field":"hi"}}},
{"data":{"name":"err_f"},"mark":{"type":"tick","orient":"horizontal","size":9,"thickness":1.3,"color":"#e6a50f","opacity":1},
"encoding":{"x":{"field":"b","type":"quantitative","scale":{"domain":[-105,5],"nice":false}},"y":{"field":"lo","type":"quantitative","scale":{"domain":[2386.8,2398.0],"nice":false}}}},
{"data":{"name":"err_f"},"mark":{"type":"tick","orient":"horizontal","size":9,"thickness":1.3,"color":"#e6a50f","opacity":1},
"encoding":{"x":{"field":"b","type":"quantitative","scale":{"domain":[-105,5],"nice":false}},"y":{"field":"hi","type":"quantitative","scale":{"domain":[2386.8,2398.0],"nice":false}}}},
{"data":{"name":"err_f"},"mark":{"type":"point","filled":true,"size":10,"color":"#b07a10","opacity":1},
"encoding":{"x":{"field":"b","type":"quantitative","scale":{"domain":[-105,5],"nice":false}},"y":{"field":"v","type":"quantitative","scale":{"domain":[2386.8,2398.0],"nice":false}}}},
{"data":{"name":"fit"},"transform":[{"filter":"datum.p=='f'"}],"mark":{"type":"line","strokeWidth":3,"opacity":0.9,"color":"#7878f0","strokeDash":[9,4]},
"encoding":{"x":{"field":"b","type":"quantitative","scale":{"domain":[-105,5],"nice":false}},"y":{"field":"v","type":"quantitative","scale":{"domain":[2386.8,2398.0],"nice":false}}}},
{"data":{"name":"labels"},"transform":[{"filter":"datum.p=='f' && datum.k=='s'"}],"mark":{"type":"text","align":"right","baseline":"middle","fontSize":18},
"encoding":{"x":{"field":"x","type":"quantitative","scale":{"domain":[-105,5],"nice":false}},"y":{"field":"y","type":"quantitative","scale":{"domain":[2386.8,2398.0],"nice":false}},"text":{"field":"text"}}},
{"data":{"name":"labels"},"transform":[{"filter":"datum.p=='f' && datum.k=='l'"}],"mark":{"type":"text","align":"left","baseline":"middle","fontSize":18},
"encoding":{"x":{"field":"x","type":"quantitative","scale":{"domain":[-105,5],"nice":false}},"y":{"field":"y","type":"quantitative","scale":{"domain":[2386.8,2398.0],"nice":false}},"text":{"field":"text"}}}
]}
],
"config":{
"font":"DejaVu Sans",
"view":{"stroke":"#444444","strokeWidth":1},
"axis":{"format":"d","labelFont":"DejaVu Sans","titleFont":"DejaVu Sans","labelFontSize":18,"titleFontSize":19,"titleFontWeight":"normal","labelColor":"#000000","titleColor":"#000000","tickColor":"#333333","tickSize":5,"labelPadding":1,"domain":false,"grid":false,"labelOverlap":false,"labelFlush":false},
"legend":{"labelFont":"DejaVu Sans","labelFontSize":19,"labelColor":"#000000","symbolType":"stroke","symbolSize":625,"symbolStrokeWidth":2.5,"labelOffset":13,"padding":7,"strokeColor":"#d8d8d8","fillColor":"#ffffff","cornerRadius":4},
"text":{"font":"DejaVu Sans","fontSize":18}
}
}
